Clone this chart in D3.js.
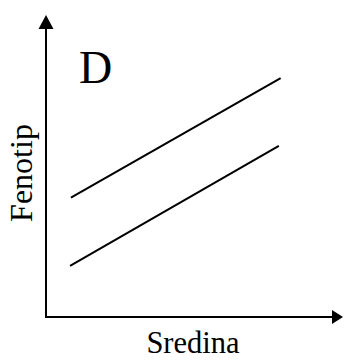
<!DOCTYPE html>
<html>
<head>
<meta charset="utf-8">
<script src="https://cdn.jsdelivr.net/npm/d3@7"></script>
<style>
  body { margin: 0; background: #fff; }
  text { font-family: "Liberation Serif", "Times New Roman", serif; fill: #000; }
</style>
</head>
<body>
<svg id="chart"></svg>
<script>
// line endpoints in chart units (0..100 on both axes)
let upperLine = [[8.4, 39.5], [79, 79.1]]
let lowerLine = [[8.1, 16.9], [78.4, 56.7]]
let panelLabel = 'D'
let xTitle = 'Sredina'
let yTitle = 'Fenotip'

let opts = {
    width: 344,
    height: 360,
    left: 46,
    right: 343,
    top: 15,
    bottom: 317,
}

let svg = d3.select('#chart')
    .attr('width', opts.width)
    .attr('height', opts.height)

let x = d3.scaleLinear().domain([0, 100]).range([opts.left, opts.right])
let y = d3.scaleLinear().domain([0, 100]).range([opts.bottom, opts.top])

// axes as plain lines with arrowheads
svg.append('line')
    .attr('x1', x(0)).attr('y1', y(0))
    .attr('x2', x(0)).attr('y2', y(100) + 8)
    .attr('stroke', '#000').attr('stroke-width', 2)
svg.append('line')
    .attr('x1', x(0) - 1).attr('y1', y(0))
    .attr('x2', x(100) - 8).attr('y2', y(0))
    .attr('stroke', '#000').attr('stroke-width', 2)

svg.append('path')
    .attr('d', `M${x(0)},${y(100)} L${x(0) - 7.5},${y(100) + 14} L${x(0) + 7.5},${y(100) + 14} Z`)
    .attr('fill', '#000')
svg.append('path')
    .attr('d', `M${x(100)},${y(0)} L${x(100) - 11},${y(0) - 7} L${x(100) - 11},${y(0) + 7} Z`)
    .attr('fill', '#000')

let line = d3.line()
    .x(d => x(d[0]))
    .y(d => y(d[1]))

svg.selectAll('path.series')
    .data([upperLine, lowerLine])
    .enter().append('path')
    .attr('class', 'series')
    .attr('d', line)
    .attr('fill', 'none')
    .attr('stroke', '#000')
    .attr('stroke-width', 2)

svg.append('text')
    .attr('x', 79)
    .attr('y', 83)
    .attr('font-size', 46)
    .text(panelLabel)

svg.append('text')
    .attr('x', 193)
    .attr('y', 353)
    .attr('text-anchor', 'middle')
    .attr('font-size', 30.5)
    .text(xTitle)

svg.append('text')
    .attr('transform', 'translate(32,173) rotate(-90)')
    .attr('text-anchor', 'middle')
    .attr('font-size', 32)
    .text(yTitle)
</script>
</body>
</html>
